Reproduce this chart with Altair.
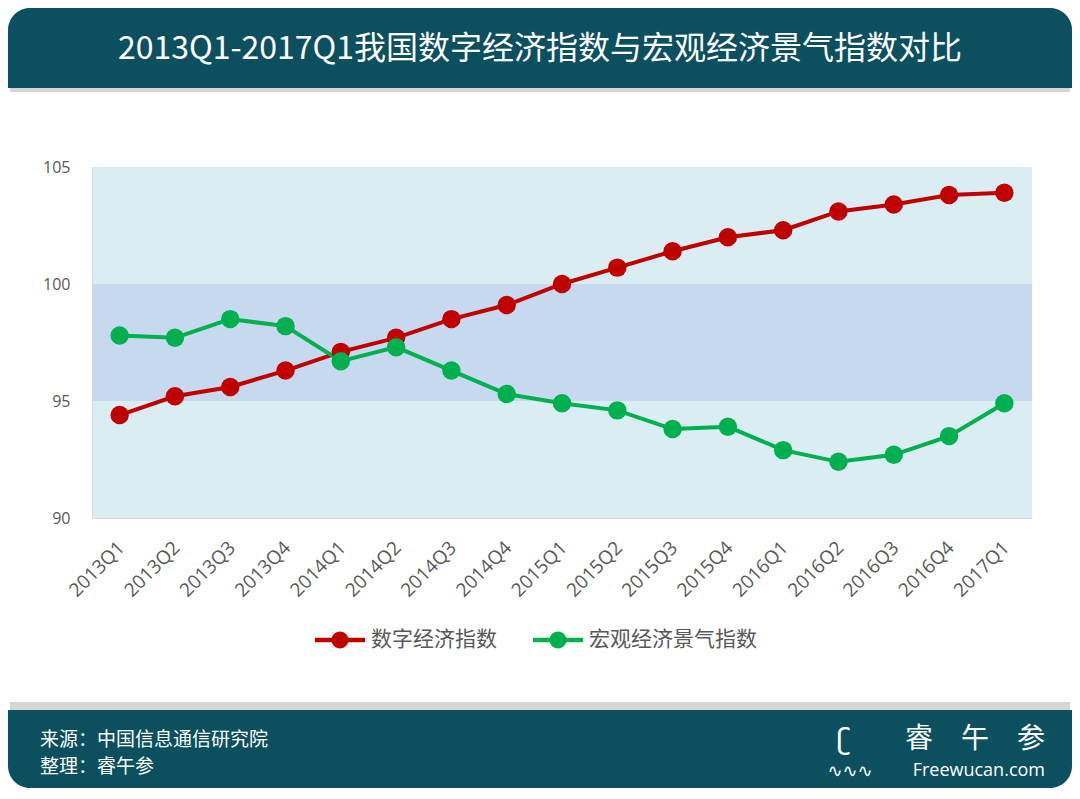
import altair as alt
import pandas as pd

quarters = ["2013Q1", "2013Q2", "2013Q3", "2013Q4", "2014Q1", "2014Q2", "2014Q3", "2014Q4",
            "2015Q1", "2015Q2", "2015Q3", "2015Q4", "2016Q1", "2016Q2", "2016Q3", "2016Q4", "2017Q1"]
digital = [94.4, 95.2, 95.6, 96.3, 97.1, 97.7, 98.5, 99.1, 100.0, 100.7, 101.4, 102.0,
           102.3, 103.1, 103.4, 103.8, 103.9]
macro = [97.8, 97.7, 98.5, 98.2, 96.7, 97.3, 96.3, 95.3, 94.9, 94.6, 93.8, 93.9,
         92.9, 92.4, 92.7, 93.5, 94.9]
series_names = ["数字经济指数", "宏观经济景气指数"]
series_colors = ["#C00000", "#00B050"]
band_low = [95]
band_high = [100]
y_ticks = [90, 95, 100, 105]

title_text = "2013Q1-2017Q1我国数字经济指数与宏观经济景气指数对比"
source_lines = ["来源：中国信息通信研究院", "整理：睿午参"]
brand_cn = "睿　午　参"
brand_en = "Freewucan.com"

W, H = 940, 351
PAD = {"left": 84, "top": 159, "right": 40, "bottom": 270}
CJK = "Noto Sans CJK SC"
TEAL = "#0C4F5E"

rows = []
for q, d, m in zip(quarters, digital, macro):
    rows.append({"quarter": q, "series": series_names[0], "value": d})
    rows.append({"quarter": q, "series": series_names[1], "value": m})
df = pd.DataFrame(rows)
band_df = pd.DataFrame({"lo": band_low, "hi": band_high})

yscale = alt.Scale(domain=[90, 105], nice=False, zero=False)
xenc = alt.X("quarter:N", sort=quarters,
             scale=alt.Scale(type="point", padding=0.5),
             axis=alt.Axis(title=None, labelAngle=-45, labelFontSize=19, labelColor="#595959",
                           labelFont="Open Sans", ticks=False, domainColor="#D9D9D9",
                           labelPadding=20, labelOffset=-5, grid=False))
yenc = alt.Y("value:Q", scale=yscale,
             axis=alt.Axis(title=None, values=y_ticks, labelFontSize=16, labelColor="#595959",
                           labelFont="Open Sans", ticks=False, domainColor="#D9D9D9",
                           labelPadding=22, grid=False))

legend_path = ("M -1 -0.09 L 1 -0.09 L 1 0.09 L -1 0.09 Z "
               "M -0.34 0 A 0.34 0.34 0 1 1 0.34 0 A 0.34 0.34 0 1 1 -0.34 0 Z")
legend = alt.Legend(title=None, orient="none", legendX=223, legendY=448, direction="horizontal",
                    symbolType=legend_path, symbolSize=2500, symbolStrokeWidth=0,
                    symbolOpacity=1, labelFontSize=21, labelFont=CJK, labelColor="#595959",
                    labelOffset=6, columnPadding=36, labelLimit=400)
cenc = alt.Color("series:N", scale=alt.Scale(domain=series_names, range=series_colors), legend=legend)

band = alt.Chart(band_df).mark_rect(color="#C6D9EF").encode(
    y=alt.Y("lo:Q", scale=yscale), y2="hi:Q", x=alt.value(0), x2=alt.value(W))

lines = alt.Chart(df).mark_line(strokeWidth=4).encode(x=xenc, y=yenc, color=cenc)
points = alt.Chart(df).mark_point(filled=True, size=340, opacity=1, shape="circle").encode(
    x=xenc, y=yenc, color=cenc)

# decorative header / footer
header_shadow = alt.Chart(band_df).mark_rect(color="#888888", opacity=0.35).encode(
    x=alt.value(-82), x2=alt.value(978), y=alt.value(-80), y2=alt.value(-75))
header = alt.Chart(band_df).mark_rect(color=TEAL, cornerRadiusTopLeft=22, cornerRadiusTopRight=22).encode(
    x=alt.value(-84), x2=alt.value(980), y=alt.value(-159), y2=alt.value(-79))
title = alt.Chart(band_df).mark_text(text=title_text, font=CJK, fontSize=32, color="white",
                                      align="center", baseline="middle").encode(
    x=alt.value(448), y=alt.value(-118))

footer_shadow = alt.Chart(band_df).mark_rect(color="#888888", opacity=0.35).encode(
    x=alt.value(-82), x2=alt.value(978), y=alt.value(535), y2=alt.value(543))
footer = alt.Chart(band_df).mark_rect(color=TEAL, cornerRadiusBottomLeft=22, cornerRadiusBottomRight=22).encode(
    x=alt.value(-84), x2=alt.value(980), y=alt.value(543), y2=alt.value(621))
src1 = alt.Chart(band_df).mark_text(text=source_lines[0], font=CJK, fontSize=19, color="white",
                                     align="left", baseline="middle").encode(x=alt.value(-52), y=alt.value(573))
src2 = alt.Chart(band_df).mark_text(text=source_lines[1], font=CJK, fontSize=19, color="white",
                                     align="left", baseline="middle").encode(x=alt.value(-52), y=alt.value(600))
b1 = alt.Chart(band_df).mark_text(text=brand_cn, font=CJK, fontSize=28, color="white",
                                   align="right", baseline="middle").encode(x=alt.value(953), y=alt.value(573))
b2 = alt.Chart(band_df).mark_text(text=brand_en, font="Open Sans", fontSize=18, color="white",
                                   align="right", baseline="middle").encode(x=alt.value(953), y=alt.value(604))
logo = alt.Chart(band_df).mark_text(text="∿∿∿", font="DejaVu Sans", fontSize=18, color="white",
                                     align="center", baseline="middle").encode(x=alt.value(758), y=alt.value(605))
logo2 = alt.Chart(band_df).mark_text(text="ʗ", font="DejaVu Sans", fontSize=28, color="white",
                                      align="center", baseline="middle").encode(x=alt.value(752), y=alt.value(574))

chart = alt.layer(band, lines, points, header_shadow, header, title, footer_shadow, footer,
                  src1, src2, b1, b2, logo, logo2).properties(
    width=W, height=H, padding=PAD, autosize=alt.AutoSizeParams(type="none"),
    background="white"
).configure_view(fill="#DAEDF3", stroke=None)

chart.save("out.html", embed_options={"renderer": "svg", "actions": False})
